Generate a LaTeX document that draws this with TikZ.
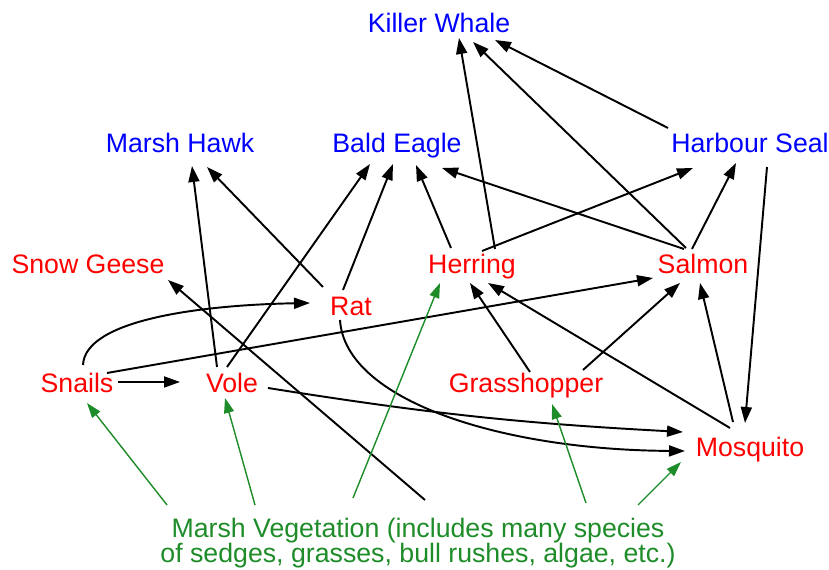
\documentclass[tikz,border=0pt]{standalone}
\usepackage{fontspec}
\setmainfont{Liberation Sans}
\usetikzlibrary{arrows.meta,calc}
\definecolor{plantgreen}{RGB}{30,140,40}

\begin{document}
\begin{tikzpicture}[x=0.02cm,y=0.02cm,
  sp/.style={anchor=base,inner sep=0pt,font=\fontsize{15.2pt}{18pt}\selectfont},
  apex/.style={sp,text=blue},
  prey/.style={sp,text=red},
  eat/.style={-{Triangle[length=0.32cm,width=0.22cm]},line width=1.1pt},
  plant/.style={-{Triangle[length=0.3cm,width=0.2cm]},line width=0.8pt,draw=plantgreen,fill=plantgreen}]
  \useasboundingbox (0,0) rectangle (829,570);
  \node[apex] (kw) at (439,537) {Killer Whale};
  \node[apex] (mh) at (180,417) {Marsh Hawk};
  \node[apex] (be) at (397,417) {Bald Eagle};
  \node[apex] (hs) at (750,417) {Harbour Seal};
  \node[prey] (sg) at (88,296) {Snow Geese};
  \node[prey] (her) at (472,296) {Herring};
  \node[prey] (sal) at (703,296) {Salmon};
  \node[prey] (rat) at (351,254) {Rat};
  \node[prey] (sn) at (77,177) {Snails};
  \node[prey] (vole) at (232,177) {Vole};
  \node[prey] (gh) at (526,177) {Grasshopper};
  \node[prey] (mos) at (750,113) {Mosquito};
  \node[sp,anchor=center,text=plantgreen,align=center,font=\fontsize{15.2pt}{14.5pt}\selectfont] (veg) at (418,27)
    {Marsh Vegetation (includes many species\\of sedges, grasses, bull rushes, algae, etc.)};
  \foreach \p/\px/\py/\q/\qx/\qy in {hs/-82/25/kw/56/-7, sal/-17/26/kw/34/-9, her/23/25/kw/20/-5,
      vole/-15/26/mh/12/-13, rat/-28/29/mh/27/-14, vole/-5/26/be/-27/-11, rat/-8/26/be/-4/-11,
      her/-21/26/be/19/-12, sal/-19/25/be/45/-15, her/10/23/hs/-57/-15, sal/-11/25/hs/-14/-10,
      hs/17/-14/mos/-5/34, sn/30/20/sal/-50/-4, sn/41/11/vole/-52/11, gh/4/21/her/-2/-9,
      gh/57/23/sal/-23/-9, mos/-20/29/her/16/-9, mos/-17/35/sal/-3/-9}
    \draw[eat] ($(\p.base)+(\px,\py)$) -- ($(\q.base)+(\qx,\qy)$);
  \draw[eat] ($(veg.center)+(7,43)$) -- ($(sg.base)+(80,-6)$);
  \draw[eat] ($(sn.base)+(6,28)$) .. controls ($(sn.base)+(8,73)$) and ($(rat.base)+(-151,11)$) .. ($(rat.base)+(-41,13)$);
  \draw[eat] ($(rat.base)+(-11,-4)$) .. controls ($(rat.base)+(-6,-84)$) and ($(mos.base)+(-250,7)$) .. ($(mos.base)+(-65,6)$);
  \draw[eat] ($(vole.base)+(36,5)$) to[bend right=3] ($(mos.base)+(-67,25)$);
  \foreach \q/\px/\py/\qx/\qy in {sn/-251/38/10/-10, vole/-163/38/-7/-5, her/-65/45/-32/-9,
      gh/168/40/26/-11, mos/220/38/-69/-5}
    \draw[plant] ($(veg.center)+(\px,\py)$) -- ($(\q.base)+(\qx,\qy)$);
\end{tikzpicture}
\end{document}
